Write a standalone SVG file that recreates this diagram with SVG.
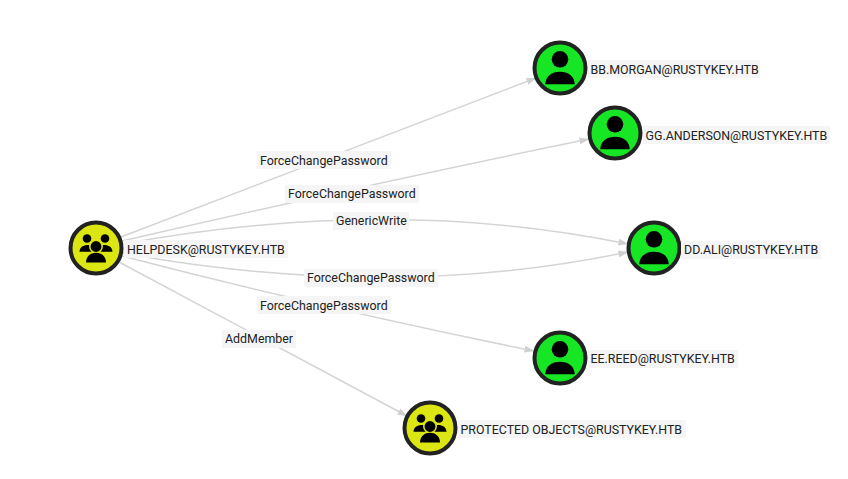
<svg xmlns="http://www.w3.org/2000/svg" width="848" height="479" viewBox="0 0 848 479">
<style>
text{font-family:Roboto,"Liberation Sans",sans-serif;font-size:12.4px;fill:#222}
.bg{fill:#f5f5f5}
.e{fill:none;stroke:#d4d4d4;stroke-width:1.5}
.ring{stroke:#222;stroke-width:4}
.u{fill:#17e625}
.g{fill:#dce612}
</style>
<defs>
<marker id="a" markerUnits="userSpaceOnUse" markerWidth="10" markerHeight="8" refX="9.5" refY="4" orient="auto"><path d="M0,0.500L10,4L0,7.500z" fill="#d0d0d0"/></marker>
<g id="person"><circle cx="0" cy="-8.700" r="8.300"/><path d="M-14.700,16.300C-14.700,8 -8,3.700 0,3.700C8,3.700 14.700,8 14.700,16.300z"/></g>
<g id="group"><circle cx="-9" cy="-9.500" r="4.300"/><circle cx="9" cy="-9.500" r="4.300"/><path d="M-16.500,3.800C-16.500,-1 -12,-3 -8.500,-3C-5,-3 -1,-1 -1,3.800zM1,3.800C1,-1 5,-3 8.500,-3C12,-3 16.500,-1 16.500,3.800z"/><circle cx="0" cy="-1.500" r="6.200" stroke="#dce612" stroke-width="1.500"/><path d="M-10,14.500C-10,8 -5,4.800 0,4.800C5,4.800 10,8 10,14.500z"/></g>
</defs>
<g id="connectors">
<path class="e" marker-end="url(#a)" d="M121,237L536,78"/>
<path class="e" marker-end="url(#a)" d="M122,241Q360,186 589,139"/>
<path class="e" marker-end="url(#a)" d="M122,244Q390,195 628,244"/>
<path class="e" marker-end="url(#a)" d="M122,253Q390,302 628,252"/>
<path class="e" marker-end="url(#a)" d="M122,256Q330,310 534,351"/>
<path class="e" marker-end="url(#a)" d="M119,262L407,416"/>
<rect class="bg" x="257" y="151" width="134" height="18"/><text x="260" y="164.500">ForceChangePassword</text>
<rect class="bg" x="285" y="185" width="134" height="18"/><text x="288" y="198">ForceChangePassword</text>
<rect class="bg" x="333" y="212" width="76" height="18"/><text x="336" y="225">GenericWrite</text>
<rect class="bg" x="304" y="269" width="134" height="18"/><text x="307" y="282">ForceChangePassword</text>
<rect class="bg" x="257" y="296" width="134" height="18"/><text x="260" y="309.500">ForceChangePassword</text>
<rect class="bg" x="222" y="330" width="74" height="18"/><text x="225" y="343">AddMember</text>
</g>
<g id="helpdesk"><circle class="g ring" cx="96" cy="248" r="25.500"/><use href="#group" x="96" y="248"/><rect class="bg" x="124" y="240" width="164" height="18"/><text x="127" y="253.500">HELPDESK@RUSTYKEY.HTB</text></g>
<g id="bbmorgan"><circle class="u ring" cx="560" cy="68" r="25.500"/><use href="#person" x="560" y="68"/><rect class="bg" x="588" y="60" width="172" height="18"/><text x="590.500" y="73.500">BB.MORGAN@RUSTYKEY.HTB</text></g>
<g id="gganderson"><circle class="u ring" cx="615" cy="133" r="25.500"/><use href="#person" x="615" y="133"/><rect class="bg" x="643" y="126" width="187" height="18"/><text x="645.500" y="139.500">GG.ANDERSON@RUSTYKEY.HTB</text></g>
<g id="ddali"><circle class="u ring" cx="654" cy="248" r="25.500"/><use href="#person" x="654" y="248"/><rect class="bg" x="681" y="241" width="140" height="18"/><text x="684" y="254">DD.ALI@RUSTYKEY.HTB</text></g>
<g id="eereed"><circle class="u ring" cx="560" cy="358" r="25.500"/><use href="#person" x="560" y="358"/><rect class="bg" x="588" y="350" width="150" height="18"/><text x="590.500" y="363">EE.REED@RUSTYKEY.HTB</text></g>
<g id="protected"><circle class="g ring" cx="430" cy="428" r="25.500"/><use href="#group" x="430" y="428"/><rect class="bg" x="458" y="420" width="228" height="18"/><text x="460.500" y="433.500">PROTECTED OBJECTS@RUSTYKEY.HTB</text></g>
</svg>
